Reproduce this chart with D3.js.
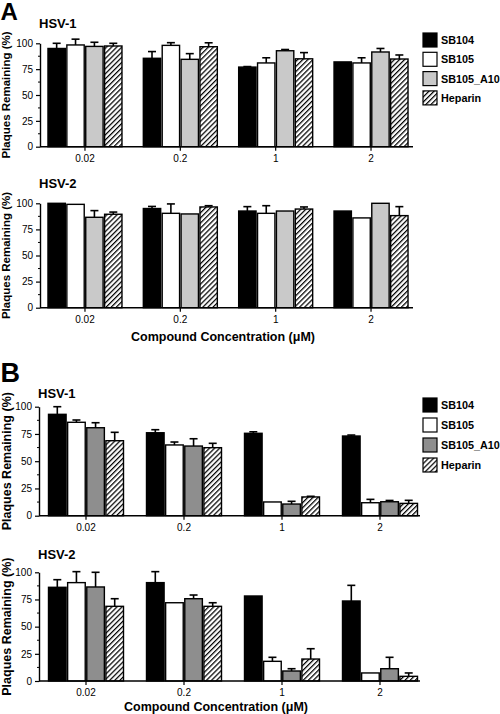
<!DOCTYPE html>
<html><head><meta charset="utf-8">
<script src="https://cdn.jsdelivr.net/npm/d3@7"></script>
<style>body{margin:0;background:#fff}svg{display:block}text{font-family:Arial,"Liberation Sans",sans-serif}</style>
</head><body>
<svg id="c" width="500" height="714"></svg>
<script>
const categories = ["0.02", "0.2", "1", "2"];
const series = ["SB104", "SB105", "SB105_A10", "Heparin"];
const yTicks = [0, 25, 50, 75, 100];

// Panel A, HSV-1 (mean and upper error per series, by concentration)
const aHsv1SB104 = [95, 85.5, 77, 82];
const aHsv1SB105 = [98.4, 98, 81, 81];
const aHsv1A10 = [97, 84.5, 92.8, 91.6];
const aHsv1Heparin = [97.4, 96.7, 85, 84.8];
const aHsv1Err = [[5, 6.5, 0.5, 0], [5.6, 2.6, 5, 5], [4, 5.5, 1.2, 3.4], [2.6, 3.8, 6, 3.9]];

// Panel A, HSV-2
const aHsv2SB104 = [100, 95, 92.6, 92.6];
const aHsv2SB105 = [99, 90.4, 90.4, 86];
const aHsv2A10 = [86.6, 89.8, 92.6, 100];
const aHsv2Heparin = [89.5, 96.5, 94.5, 88.2];
const aHsv2Err = [[0, 2, 4.2, 0], [0, 9, 7.3, 0], [6.4, 0, 0, 0], [2.1, 1.2, 2, 8.6]];

// Panel B, HSV-1
const bHsv1SB104 = [93, 76.1, 75.6, 73.1];
const bHsv1SB105 = [85.7, 64.9, 12.6, 11.9];
const bHsv1A10 = [80.7, 63.9, 10.7, 12.8];
const bHsv1Heparin = [68.8, 62.4, 17.2, 11.3];
const bHsv1Err = [[7, 2.8, 1.4, 0.9], [2.1, 2.7, 0, 3.1], [4.6, 6.7, 2.5, 1.2], [7.7, 4, 0.6, 2.8]];

// Panel B, HSV-2
const bHsv2SB104 = [86.2, 90.5, 78.2, 73.6];
const bHsv2SB105 = [90.5, 72, 18.1, 7.4];
const bHsv2A10 = [86.5, 75.7, 9.2, 11.3];
const bHsv2Heparin = [68.7, 68.7, 20.2, 4.3];
const bHsv2Err = [[7, 10.1, 0, 14.4], [10.1, 0, 3.7, 0], [13.5, 3.4, 2.1, 10.5], [7, 3.3, 9.5, 3.1]];

const svg = d3.select("#c");
const defs = svg.append("defs");
const pat = defs.append("pattern").attr("id", "hatch").attr("patternUnits", "userSpaceOnUse")
  .attr("width", 3.6).attr("height", 3.6).attr("patternTransform", "rotate(45)");
pat.append("rect").attr("width", 3.6).attr("height", 3.6).attr("fill", "#fff");
pat.append("line").attr("x1", 0.6).attr("y1", 0).attr("x2", 0.6).attr("y2", 3.6)
  .attr("stroke", "#000").attr("stroke-width", 1.3);

function drawPanel(cfg) {
  const { values, errs, yTop, yBot, xRange, ax0, ax1, grayFill, title, titleY, groupHalf, fs } = cfg;
  const g = svg.append("g");
  const y = d3.scaleLinear().domain([0, 100]).range([yBot, yTop]);
  const x = d3.scaleBand().domain(categories).range(xRange).paddingInner(0).paddingOuter(0);
  const xs = d3.scaleBand().domain(series).range([-groupHalf, groupHalf]).paddingInner(0.08);
  const fills = ["#000", "#fff", grayFill, "url(#hatch)"];

  series.forEach((s, si) => {
    categories.forEach((c, ci) => {
      const v = values[si][ci];
      const bx = x(c) + x.bandwidth() / 2 + xs(s);
      g.append("rect").attr("x", bx).attr("y", y(v)).attr("width", xs.bandwidth())
        .attr("height", y(0) - y(v)).attr("fill", fills[si]).attr("stroke", "#000").attr("stroke-width", 1.4);
      const e = errs[si][ci];
      if (e > 0) {
        const cx = bx + xs.bandwidth() / 2;
        g.append("line").attr("x1", cx).attr("x2", cx).attr("y1", y(v)).attr("y2", y(v + e))
          .attr("stroke", "#000").attr("stroke-width", 1.6);
        g.append("line").attr("x1", cx - 4).attr("x2", cx + 4).attr("y1", y(v + e)).attr("y2", y(v + e))
          .attr("stroke", "#000").attr("stroke-width", 1.6);
      }
    });
  });

  const ya = g.append("g").attr("transform", `translate(${ax0},0)`)
    .call(d3.axisLeft(y).tickValues(yTicks).tickSize(4).tickPadding(3).tickSizeOuter(0));
  ya.select(".domain").attr("stroke-width", 1.4);
  ya.selectAll(".tick line").attr("stroke-width", 1.2);
  ya.selectAll("text").attr("font-size", fs.tick).attr("fill", "#000");
  const minor = [12.5, 37.5, 62.5, 87.5];
  minor.forEach(m => g.append("line").attr("x1", ax0 - 2).attr("x2", ax0).attr("y1", y(m)).attr("y2", y(m)).attr("stroke", "#000").attr("stroke-width", 1));

  const xa = g.append("g").attr("transform", `translate(0,${yBot})`)
    .call(d3.axisBottom(x).tickSize(4).tickPadding(4).tickSizeOuter(0));
  xa.select(".domain").attr("d", `M${ax0},0H${ax1}`).attr("stroke-width", 1.6);
  xa.selectAll(".tick line").attr("stroke-width", 1.2);
  xa.selectAll("text").attr("font-size", fs.tick).attr("fill", "#000");

  g.append("text").attr("x", ax0 - 1).attr("y", titleY).attr("font-size", 13).attr("font-weight", "bold").text(title);
  g.append("text").attr("transform", `translate(${fs.ytitleX},${(yTop + yBot) / 2}) rotate(-90)`)
    .attr("text-anchor", "middle").attr("font-size", fs.ytitle).attr("font-weight", "bold").text("Plaques Remaining (%)");
}

function drawLegend(x0, y0, step, grayFill) {
  const fills = ["#000", "#fff", grayFill, "url(#hatch)"];
  const lg = svg.append("g");
  series.forEach((s, i) => {
    const cy = y0 + i * step;
    lg.append("rect").attr("x", x0).attr("y", cy - 7).attr("width", 14).attr("height", 14)
      .attr("fill", fills[i]).attr("stroke", "#000").attr("stroke-width", 1.2);
    lg.append("text").attr("x", x0 + 18).attr("y", cy + 4).attr("font-size", 10.8).attr("font-weight", "bold").text(s);
  });
}

const lightGray = "#c9c9c9", darkGray = "#8e8e8e";
const fsA = { tick: 10, ytitle: 11.5, ytitleX: 10 };
const fsB = { tick: 10, ytitle: 12.5, ytitleX: 10.5 };

drawPanel({ values: [aHsv1SB104, aHsv1SB105, aHsv1A10, aHsv1Heparin], errs: aHsv1Err, yTop: 43.3, yBot: 146.7,
  xRange: [37.3, 418.7], ax0: 40, ax1: 413, grayFill: lightGray, title: "HSV-1", titleY: 28, groupHalf: 37, fs: fsA });
drawPanel({ values: [aHsv2SB104, aHsv2SB105, aHsv2A10, aHsv2Heparin], errs: aHsv2Err, yTop: 203.3, yBot: 307.7,
  xRange: [37.3, 418.7], ax0: 40, ax1: 413, grayFill: lightGray, title: "HSV-2", titleY: 188, groupHalf: 37, fs: fsA });
drawPanel({ values: [bHsv1SB104, bHsv1SB105, bHsv1A10, bHsv1Heparin], errs: bHsv1Err, yTop: 406.7, yBot: 515.7,
  xRange: [37, 429], ax0: 39, ax1: 420, grayFill: darkGray, title: "HSV-1", titleY: 398, groupHalf: 37.5, fs: fsB });
drawPanel({ values: [bHsv2SB104, bHsv2SB105, bHsv2A10, bHsv2Heparin], errs: bHsv2Err, yTop: 572.3, yBot: 681,
  xRange: [37, 429], ax0: 39, ax1: 420, grayFill: darkGray, title: "HSV-2", titleY: 559, groupHalf: 37.5, fs: fsB });

drawLegend(423, 40, 19.3, lightGray);
drawLegend(423, 405, 20, darkGray);

svg.append("text").attr("x", 223).attr("y", 341).attr("text-anchor", "middle").attr("font-size", 12.5)
  .attr("font-weight", "bold").text("Compound Concentration (μM)");
svg.append("text").attr("x", 216).attr("y", 711).attr("text-anchor", "middle").attr("font-size", 12.5)
  .attr("font-weight", "bold").text("Compound Concentration (μM)");

svg.append("text").attr("x", 0.5).attr("y", 20).attr("font-size", 24).attr("font-weight", "bold").text("A");
svg.append("text").attr("x", 0.5).attr("y", 382).attr("font-size", 27).attr("font-weight", "bold").text("B");
</script>
</body></html>
